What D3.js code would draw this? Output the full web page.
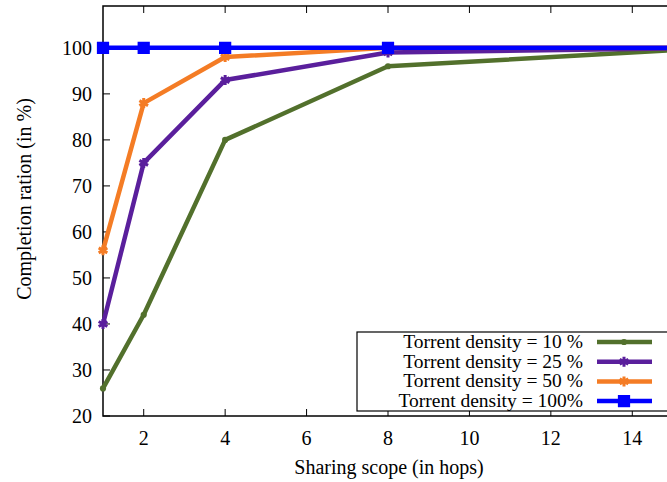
<!DOCTYPE html>
<html>
<head>
<meta charset="utf-8">
<script src="https://cdn.jsdelivr.net/npm/d3@7"></script>
<style>
  body { margin: 0; background: #fff; }
  text { font-family: "Liberation Serif", "DejaVu Serif", serif; fill: #000; }
</style>
</head>
<body>
<svg id="chart" width="667" height="482"></svg>
<script>
// hops
var hops = [1, 2, 4, 8, 16];
// completion ratio per torrent density
var density10 = [26, 42, 80, 96, 100];
var density25 = [40, 75, 93, 99, 100];
var density50 = [56, 88, 98, 100, 100];
var density100 = [100, 100, 100, 100, 100];

var seriesNames = ['Torrent density = 10 %', 'Torrent density = 25 %', 'Torrent density = 50 %', 'Torrent density = 100%'];
var colors = ['#52702c', '#5a1f9c', '#f47c25', '#0000ff'];
var markers = ['dot', 'star', 'star', 'square'];

var xTicks = [2, 4, 6, 8, 10, 12, 14];
var yTicks = [20, 30, 40, 50, 60, 70, 80, 90, 100];

var allSeries = [density10, density25, density50, density100];

var svg = d3.select('#chart');

/* Scales */
var xScale = d3.scaleLinear().domain([1, 15]).range([103, 673]);
var yScale = d3.scaleLinear().domain([20, 109.1]).range([416, 6]);

/* Frame */
var pLeft = xScale(1), pRight = xScale(15), pTop = yScale(109.1), pBottom = yScale(20);
svg.append('rect')
  .attr('x', pLeft).attr('y', pTop)
  .attr('width', pRight - pLeft).attr('height', pBottom - pTop)
  .attr('fill', 'none').attr('stroke', '#000').attr('stroke-width', 1.5);

/* Ticks (gnuplot style, inward) */
var tickLen = 7;
var g = svg.append('g');
xTicks.forEach(function (t) {
  g.append('line').attr('x1', xScale(t)).attr('x2', xScale(t))
    .attr('y1', pBottom).attr('y2', pBottom - tickLen).attr('stroke', '#000');
  g.append('line').attr('x1', xScale(t)).attr('x2', xScale(t))
    .attr('y1', pTop).attr('y2', pTop + tickLen).attr('stroke', '#000');
  g.append('text').attr('x', xScale(t)).attr('y', pBottom + 29)
    .attr('text-anchor', 'middle').attr('font-size', 20).text(t);
});
yTicks.forEach(function (t) {
  g.append('line').attr('x1', pLeft).attr('x2', pLeft + tickLen)
    .attr('y1', yScale(t)).attr('y2', yScale(t)).attr('stroke', '#000');
  g.append('text').attr('x', pLeft - 11).attr('y', yScale(t) + 7)
    .attr('text-anchor', 'end').attr('font-size', 20).text(t);
});

/* Axis titles */
svg.append('text').attr('x', 389).attr('y', 474)
  .attr('text-anchor', 'middle').attr('font-size', 20).text('Sharing scope (in hops)');
svg.append('text')
  .attr('transform', 'translate(31,199) rotate(-90)')
  .attr('text-anchor', 'middle').attr('font-size', 20).text('Completion ration (in %)');

/* Clip for lines */
svg.append('clipPath').attr('id', 'clip').append('rect')
  .attr('x', pLeft - 3).attr('y', pTop).attr('width', pRight - pLeft + 3).attr('height', pBottom - pTop);

var plot = svg.append('g').attr('clip-path', 'url(#clip)');
var pointLayer = svg.append('g');

var line = d3.line()
  .x(function (d) { return xScale(d[0]); })
  .y(function (d) { return yScale(d[1]); });

var starPath = d3.symbol().type(d3.symbolAsterisk).size(70);
var squarePath = d3.symbol().type(d3.symbolSquare).size(150);
var dotPath = d3.symbol().type(d3.symbolCircle).size(30);

function drawMarker(sel, kind, color) {
  if (kind === 'square') {
    sel.append('path').attr('d', squarePath()).attr('fill', color);
  } else if (kind === 'star') {
    sel.append('path').attr('d', starPath()).attr('fill', 'none').attr('stroke', color).attr('stroke-width', 3);
  } else {
    sel.append('path').attr('d', dotPath()).attr('fill', color);
  }
}

allSeries.forEach(function (vals, i) {
  var pts = hops.map(function (h, j) { return [h, vals[j]]; });
  var layer = svg.insert('g', 'g.legend');
  layer.append('path').datum(pts)
    .attr('clip-path', 'url(#clip)')
    .attr('d', line)
    .attr('fill', 'none')
    .attr('stroke', colors[i])
    .attr('stroke-width', 4.5)
    .attr('stroke-linejoin', 'round');
  layer.selectAll('g.m' + i)
    .data(pts.filter(function (d) { return d[0] <= 15; }))
    .join('g')
    .attr('class', 'm' + i)
    .attr('transform', function (d) { return 'translate(' + xScale(d[0]) + ',' + yScale(d[1]) + ')'; })
    .each(function () { drawMarker(d3.select(this), markers[i], colors[i]); });
});

/* Legend */
var legend = svg.append('g').attr('class', 'legend');
legend.append('rect').attr('x', 357).attr('y', 332).attr('width', 320).attr('height', 79)
  .attr('fill', '#fff').attr('stroke', '#000').attr('stroke-width', 1.2);
seriesNames.forEach(function (name, i) {
  var ly = 342 + i * 19.7;
  legend.append('text').attr('x', 583).attr('y', ly + 6)
    .attr('text-anchor', 'end').attr('font-size', 19.5).text(name);
  legend.append('line').attr('x1', 597).attr('x2', 652).attr('y1', ly).attr('y2', ly)
    .attr('stroke', colors[i]).attr('stroke-width', 4.5);
  var mg = legend.append('g').attr('transform', 'translate(624,' + ly + ')');
  drawMarker(mg, markers[i], colors[i]);
});
</script>
</body>
</html>
